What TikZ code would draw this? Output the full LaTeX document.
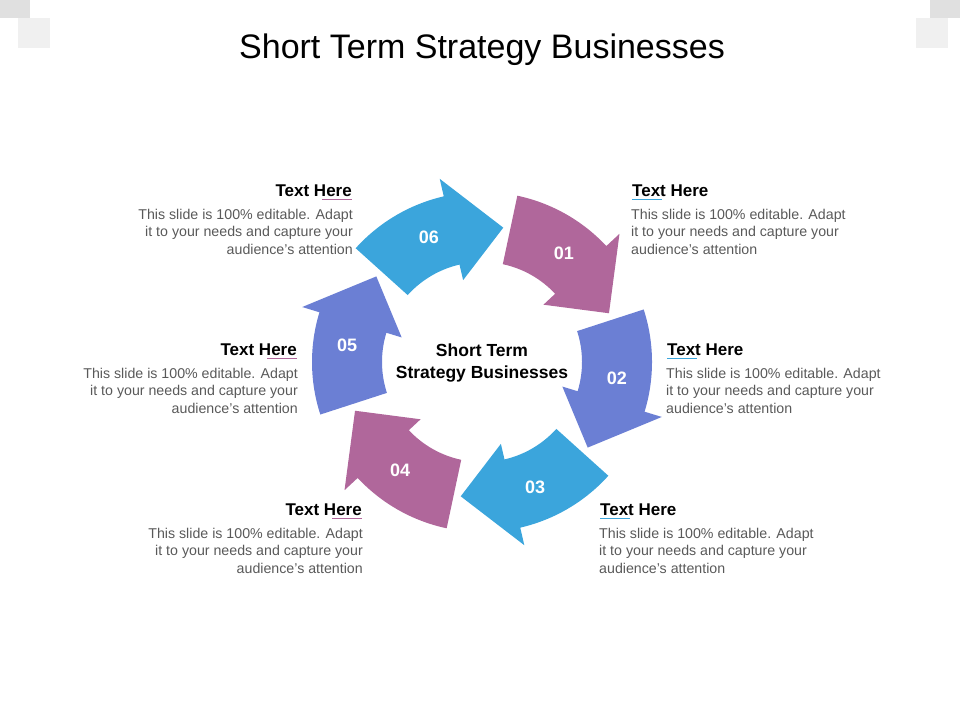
\documentclass[tikz,border=0pt]{standalone}
\usepackage{fontspec}
\setmainfont{Liberation Sans}
\definecolor{cyanA}{HTML}{3BA5DC}
\definecolor{plumA}{HTML}{B0679B}
\definecolor{blueA}{HTML}{6B7FD4}
\definecolor{bodyA}{HTML}{595959}
\begin{document}
\begin{tikzpicture}[x=1pt,y=1pt,
  head/.style={font=\fontsize{17}{20}\selectfont\bfseries,inner sep=0pt},
  body/.style={font=\fontsize{14.2}{17.5}\selectfont,text=bodyA,inner sep=0pt},
  num/.style={font=\fontsize{18}{20}\selectfont\bfseries,text=white}]
\useasboundingbox (0,0) rectangle (960,720);
% corner squares
\fill[black!12] (0,720) rectangle (30,702);
\fill[black!6] (18,702) rectangle (50,672);
\fill[black!12] (930,720) rectangle (960,702);
\fill[black!6] (916,702) rectangle (948,672);
\node (title) at (482,670) {\fontsize{34}{40}\selectfont Short Term Strategy Businesses};
% arrows
\foreach \c/\col/\n [count=\i] in {53/plumA/01,-7/blueA/02,-67/cyanA/03,-127/plumA/04,173/blueA/05,113/cyanA/06}{
  \begin{scope}[shift={(482,358)}]
    \fill[\col] (\c+25:170) arc[start angle=\c+25,end angle=\c-10,radius=170]
      -- (\c-10:188) -- (\c-32:136) -- (\c-10:84) -- (\c-10:100)
      arc[start angle=\c-10,end angle=\c+25,radius=100] -- cycle;
    \node[num] (n\i) at (\c:136) {\n};
  \end{scope}
}
\node[font=\fontsize{17.5}{22}\selectfont\bfseries,align=center] (center) at (482,357) {Short Term\\Strategy Businesses};
% right texts
\foreach \x/\y/\i in {632/523/1,667/364/2,600/204/3}{
  \node[head,anchor=base west] (h\i) at (\x,\y) {Text Here};
  \draw[cyanA] (h\i.south west) ++(0,-2) -- ++(30,0);
  \node[body,anchor=north west,align=left] (b\i) at (\x-1,\y-12)
    {This slide is 100\% editable. Adapt\\it to your needs and capture your\\audience's attention};
}
% left texts
\foreach \x/\y/\i in {352/523/6,297/364/5,362/204/4}{
  \node[head,anchor=base east] (h\i) at (\x,\y) {Text Here};
  \draw[plumA] (h\i.south east) ++(0,-2) -- ++(-30,0);
  \node[body,anchor=north east,align=right] (b\i) at (\x+1,\y-12)
    {This slide is 100\% editable. Adapt\\it to your needs and capture your\\audience's attention};
}
\end{tikzpicture}
\end{document}
